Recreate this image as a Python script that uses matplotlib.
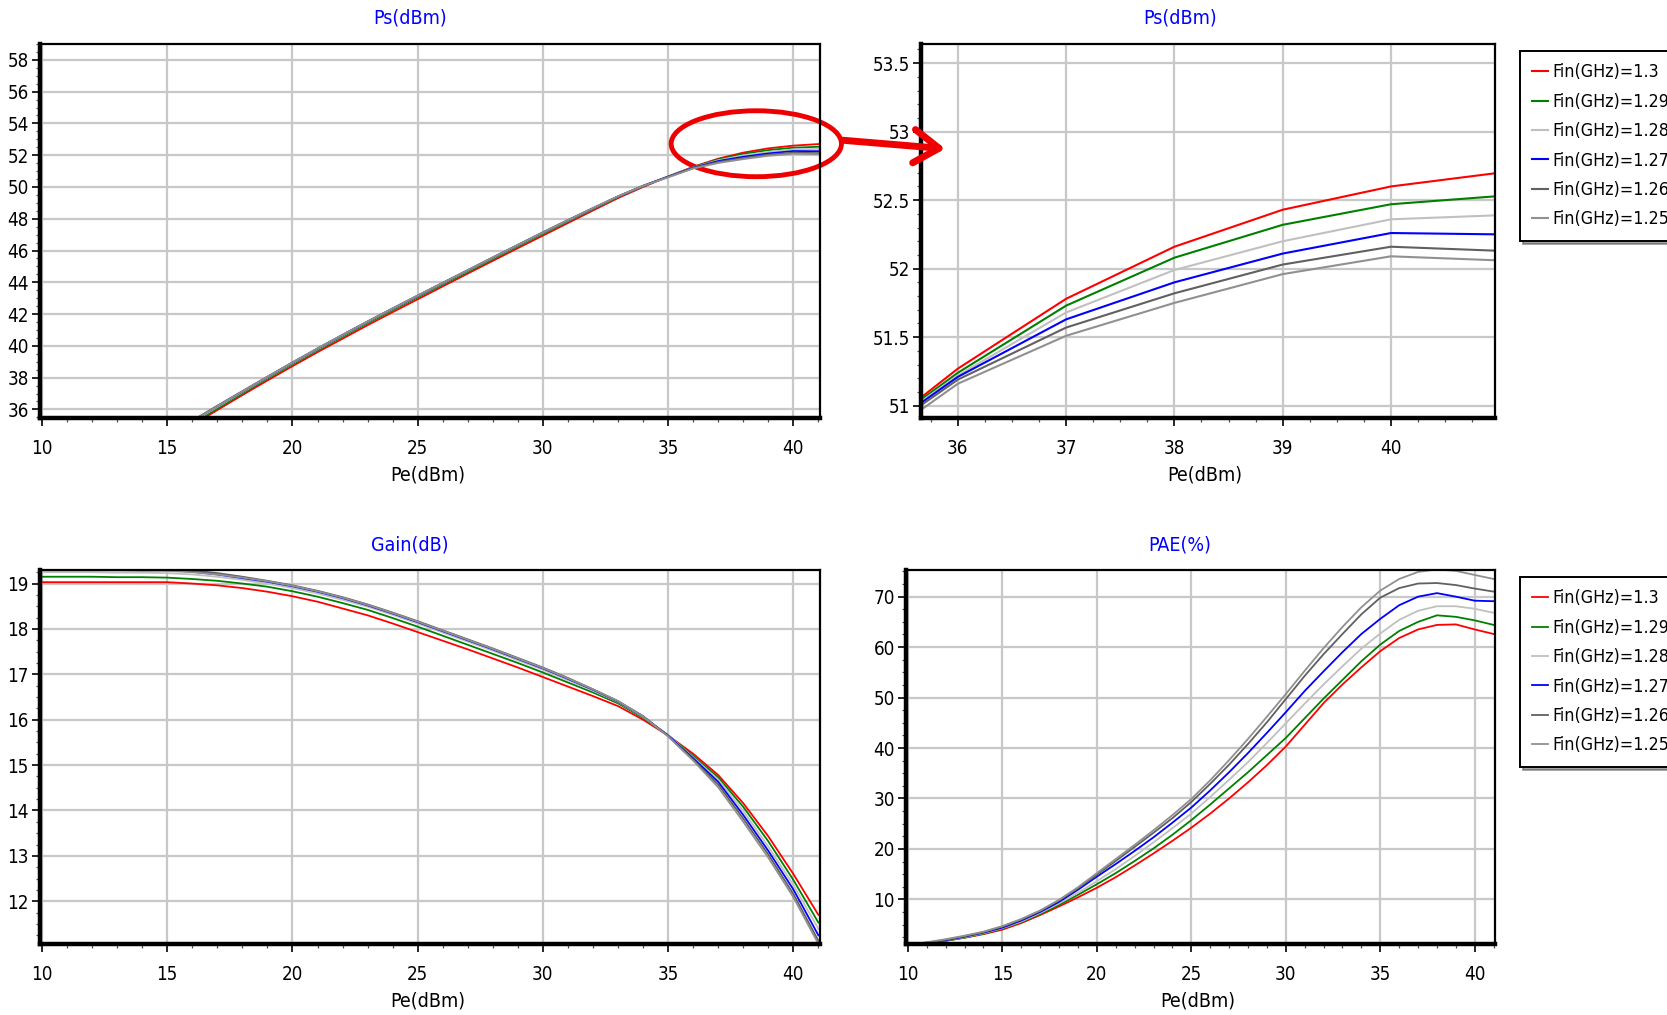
import matplotlib
matplotlib.use("Agg")
import matplotlib.pyplot as plt
from matplotlib.patches import Ellipse, FancyArrowPatch
from matplotlib.ticker import MultipleLocator

plt.rcParams['font.family'] = ['DejaVu Sans']
plt.rcParams['font.stretch'] = 'condensed'

# input power sweep (dBm)
pe = [10, 11, 12, 13, 14, 15, 16, 17, 18, 19, 20, 21, 22, 23, 24, 25,
      26, 27, 28, 29, 30, 31, 32, 33, 34, 35, 36, 37, 38, 39, 40, 41]

freqs = ['1.3', '1.29', '1.28', '1.27', '1.26', '1.25']
colors = ['#ff0000', '#008000', '#c0c0c0', '#0000ff', '#606060', '#909090']

# output power Ps (dBm)
ps_130 = [29.03, 30.03, 31.03, 32.03, 33.03, 34.03, 35.0, 35.96, 36.9, 37.82, 38.72, 39.6, 40.45, 41.3, 42.12, 42.93,
          43.74, 44.55, 45.35, 46.15, 46.94, 47.73, 48.52, 49.3, 50.0, 50.65, 51.27, 51.78, 52.16, 52.43, 52.6, 52.7]
ps_129 = [29.15, 30.15, 31.15, 32.14, 33.14, 34.13, 35.1, 36.06, 37.0, 37.93, 38.83, 39.71, 40.57, 41.42, 42.24, 43.05,
          43.85, 44.65, 45.45, 46.25, 47.04, 47.82, 48.6, 49.36, 50.04, 50.66, 51.24, 51.73, 52.08, 52.32, 52.47, 52.53]
ps_128 = [29.25, 30.25, 31.25, 32.24, 33.24, 34.23, 35.2, 36.15, 37.08, 38.0, 38.9, 39.78, 40.64, 41.49, 42.31, 43.12,
          43.92, 44.72, 45.52, 46.31, 47.1, 47.87, 48.64, 49.39, 50.06, 50.66, 51.22, 51.68, 51.99, 52.2, 52.36, 52.39]
ps_127 = [29.33, 30.33, 31.32, 32.32, 33.31, 34.3, 35.26, 36.2, 37.12, 38.04, 38.94, 39.82, 40.68, 41.52, 42.34, 43.15,
          43.95, 44.75, 45.55, 46.34, 47.13, 47.9, 48.66, 49.4, 50.07, 50.65, 51.21, 51.63, 51.9, 52.11, 52.26, 52.25]
ps_126 = [29.36, 30.36, 31.35, 32.35, 33.34, 34.33, 35.29, 36.23, 37.15, 38.06, 38.96, 39.84, 40.7, 41.54, 42.36, 43.17,
          43.97, 44.77, 45.57, 46.36, 47.15, 47.92, 48.67, 49.41, 50.08, 50.64, 51.19, 51.57, 51.82, 52.03, 52.16, 52.13]
ps_125 = [29.29, 30.29, 31.29, 32.29, 33.28, 34.28, 35.25, 36.2, 37.13, 38.05, 38.95, 39.83, 40.69, 41.53, 42.35, 43.16,
          43.96, 44.76, 45.56, 46.35, 47.14, 47.91, 48.67, 49.41, 50.07, 50.6, 51.16, 51.51, 51.75, 51.96, 52.09, 52.06]

# gain (dB)
gain_130 = [19.03, 19.03, 19.03, 19.03, 19.03, 19.03, 19.0, 18.96, 18.9, 18.82, 18.72, 18.6, 18.45, 18.3, 18.12, 17.93,
            17.74, 17.55, 17.35, 17.15, 16.94, 16.73, 16.52, 16.3, 16.0, 15.65, 15.25, 14.78, 14.16, 13.43, 12.6, 11.7]
gain_129 = [19.15, 19.15, 19.15, 19.14, 19.14, 19.13, 19.1, 19.06, 19.0, 18.93, 18.83, 18.71, 18.57, 18.42, 18.24, 18.05,
            17.85, 17.65, 17.45, 17.25, 17.04, 16.82, 16.6, 16.36, 16.04, 15.66, 15.2, 14.73, 14.08, 13.32, 12.47, 11.53]
gain_128 = [19.25, 19.25, 19.25, 19.24, 19.24, 19.23, 19.2, 19.15, 19.08, 19.0, 18.9, 18.78, 18.64, 18.49, 18.31, 18.12,
            17.92, 17.72, 17.52, 17.31, 17.1, 16.87, 16.64, 16.39, 16.06, 15.66, 15.17, 14.68, 13.99, 13.2, 12.36, 11.39]
gain_127 = [19.33, 19.33, 19.32, 19.32, 19.31, 19.3, 19.26, 19.2, 19.12, 19.04, 18.94, 18.82, 18.68, 18.52, 18.34, 18.15,
            17.95, 17.75, 17.55, 17.34, 17.13, 16.9, 16.66, 16.4, 16.07, 15.65, 15.15, 14.63, 13.9, 13.11, 12.26, 11.25]
gain_126 = [19.36, 19.36, 19.35, 19.35, 19.34, 19.33, 19.29, 19.23, 19.15, 19.06, 18.96, 18.84, 18.7, 18.54, 18.36, 18.17,
            17.97, 17.77, 17.57, 17.36, 17.15, 16.92, 16.67, 16.41, 16.08, 15.64, 15.12, 14.57, 13.82, 13.03, 12.16, 11.13]
gain_125 = [19.29, 19.29, 19.29, 19.29, 19.28, 19.28, 19.25, 19.2, 19.13, 19.05, 18.95, 18.83, 18.69, 18.53, 18.35, 18.16,
            17.96, 17.76, 17.56, 17.35, 17.14, 16.91, 16.67, 16.41, 16.07, 15.63, 15.1, 14.51, 13.75, 12.96, 12.09, 11.06]

# power added efficiency (%)
pae_130 = [0.9, 1.3, 1.8, 2.4, 3.1, 4.0, 5.3, 6.9, 8.6, 10.4, 12.3, 14.4, 16.7, 19.1, 21.6, 24.2,
           27.0, 30.0, 33.2, 36.6, 40.3, 44.6, 48.9, 52.6, 56.0, 59.2, 61.8, 63.5, 64.4, 64.5, 63.5, 62.6]
pae_129 = [0.9, 1.3, 1.8, 2.4, 3.2, 4.2, 5.5, 7.1, 8.9, 10.9, 13.0, 15.2, 17.6, 20.1, 22.8, 25.7,
           28.8, 32.0, 35.2, 38.6, 42.0, 45.9, 49.8, 53.5, 57.2, 60.5, 63.2, 65.0, 66.3, 66.0, 65.3, 64.4]
pae_128 = [1.0, 1.4, 1.9, 2.5, 3.3, 4.3, 5.6, 7.3, 9.2, 11.3, 13.6, 16.0, 18.6, 21.3, 24.1, 27.0,
           30.3, 33.7, 37.2, 41.0, 44.9, 48.8, 52.6, 56.2, 59.7, 62.7, 65.4, 67.2, 68.1, 68.1, 67.6, 66.8]
pae_127 = [1.0, 1.4, 1.9, 2.6, 3.4, 4.4, 5.8, 7.5, 9.5, 11.9, 14.5, 17.0, 19.6, 22.3, 25.2, 28.2,
           31.6, 35.2, 39.0, 43.0, 47.1, 51.3, 55.2, 59.0, 62.6, 65.6, 68.3, 70.0, 70.7, 70.0, 69.2, 69.1]
pae_126 = [1.0, 1.4, 2.0, 2.7, 3.5, 4.6, 6.0, 7.7, 9.8, 12.2, 14.9, 17.6, 20.4, 23.2, 26.1, 29.3,
           32.9, 36.7, 40.8, 45.1, 49.7, 54.3, 58.6, 62.6, 66.5, 69.8, 71.7, 72.6, 72.7, 72.3, 71.6, 71.0]
pae_125 = [1.0, 1.5, 2.1, 2.8, 3.6, 4.7, 6.1, 7.8, 9.9, 12.4, 15.2, 18.0, 20.8, 23.7, 26.7, 29.9,
           33.6, 37.6, 41.8, 46.2, 50.7, 55.3, 59.8, 64.0, 67.9, 71.2, 73.5, 74.9, 75.4, 75.1, 74.3, 73.5]

ps_all = [ps_130, ps_129, ps_128, ps_127, ps_126, ps_125]
gain_all = [gain_130, gain_129, gain_128, gain_127, gain_126, gain_125]
pae_all = [pae_130, pae_129, pae_128, pae_127, pae_126, pae_125]

TICKSIZE = 13.5
GRIDCOLOR = '#c8c8c8'


def style_axes(ax, xmajor, xminor, ymajor, yminor):
    ax.xaxis.set_major_locator(MultipleLocator(xmajor))
    ax.xaxis.set_minor_locator(MultipleLocator(xminor))
    ax.yaxis.set_major_locator(MultipleLocator(ymajor))
    ax.yaxis.set_minor_locator(MultipleLocator(yminor))
    ax.grid(True, which='major', color=GRIDCOLOR, lw=1.6)
    ax.set_axisbelow(True)
    ax.tick_params(which='major', direction='out', length=6, width=1.2, labelsize=TICKSIZE)
    ax.tick_params(axis='x', which='major', pad=9)
    ax.tick_params(axis='y', which='major', pad=2)
    ax.tick_params(which='minor', direction='out', length=3.0, width=0.9, colors='#505050')
    ax.spines['left'].set_linewidth(3.2)
    ax.spines['bottom'].set_linewidth(3.2)
    ax.spines['top'].set_linewidth(1.6)
    ax.spines['right'].set_linewidth(1.6)
    for s in ax.spines.values():
        s.set_color('black')


def add_legend(handles, y):
    leg = fig.legend(handles, ['Fin(GHz)=' + f for f in freqs], loc='upper left',
                     bbox_to_anchor=(0.9118, y), bbox_transform=fig.transFigure,
                     fontsize=12.8, handlelength=0.85, handletextpad=0.3, labelspacing=0.64,
                     borderpad=0.7, frameon=True, fancybox=False, shadow=True,
                     borderaxespad=0)
    leg.get_frame().set_edgecolor('black')
    leg.get_frame().set_linewidth(1.4)
    return leg


fig = plt.figure(figsize=(16.67, 10.15), dpi=100)

ax_ps = fig.add_axes([0.024, 0.5882, 0.468, 0.3685])
ax_zoom = fig.add_axes([0.5525, 0.5882, 0.3443, 0.3685])
ax_gain = fig.add_axes([0.024, 0.070, 0.468, 0.3685])
ax_pae = fig.add_axes([0.5435, 0.070, 0.3533, 0.3685])

handles_ps = []
handles_pae = []
for i in range(len(freqs)):
    ax_ps.plot(pe, ps_all[i], color=colors[i], lw=1.3)
    ax_gain.plot(pe, gain_all[i], color=colors[i], lw=1.3)
    h, = ax_zoom.plot(pe, ps_all[i], color=colors[i], lw=1.5)
    handles_ps.append(h)
    h, = ax_pae.plot(pe, pae_all[i], color=colors[i], lw=1.3)
    handles_pae.append(h)

ax_ps.set_xlim(9.92, 41.07)
ax_ps.set_ylim(35.46, 59.0)
style_axes(ax_ps, 5, 1, 2, 0.5)

ax_zoom.set_xlim(35.66, 40.96)
ax_zoom.set_ylim(50.91, 53.64)
style_axes(ax_zoom, 1, 0.25, 0.5, 0.1)
ax_zoom.yaxis.set_major_formatter(plt.FuncFormatter(lambda v, p: '%g' % v))

ax_gain.set_xlim(9.92, 41.07)
ax_gain.set_ylim(11.06, 19.30)
style_axes(ax_gain, 5, 1, 1, 0.25)

ax_pae.set_xlim(9.9, 41.07)
ax_pae.set_ylim(1.16, 75.3)
style_axes(ax_pae, 5, 1, 10, 2.5)

# titles and axis labels
for x, y, t in [(410 / 1667, 1 - 18 / 1015, 'Ps(dBm)'), (1180 / 1667, 1 - 18 / 1015, 'Ps(dBm)'),
                (410 / 1667, 1 - 545 / 1015, 'Gain(dB)'), (1180 / 1667, 1 - 545 / 1015, 'PAE(%)')]:
    fig.text(x, y, t, color='#0000ff', fontsize=14, ha='center', va='center')

for x, y in [(428 / 1667, 1 - 475 / 1015), (1205 / 1667, 1 - 475 / 1015),
             (428 / 1667, 1 - 1001 / 1015), (1198 / 1667, 1 - 1001 / 1015)]:
    fig.text(x, y, 'Pe(dBm)', color='black', fontsize=14, ha='center', va='center')

add_legend(handles_ps, 1 - 51 / 1015)
add_legend(handles_pae, 1 - 577 / 1015)

# highlight of the compression region and arrow to the zoomed plot
ell = Ellipse((38.52, 52.72), 6.8, 4.15, fill=False, edgecolor='#ee0000', lw=3.5, clip_on=False)
ax_ps.add_patch(ell)
arrow = FancyArrowPatch((840 / 1667, 1 - 140 / 1015), (948 / 1667, 1 - 149 / 1015),
                        transform=fig.transFigure, arrowstyle='->,head_length=0.9,head_width=0.6',
                        color='#ee0000', lw=5, mutation_scale=20, zorder=5)
fig.add_artist(arrow)

fig.savefig('out.png', dpi=100)
